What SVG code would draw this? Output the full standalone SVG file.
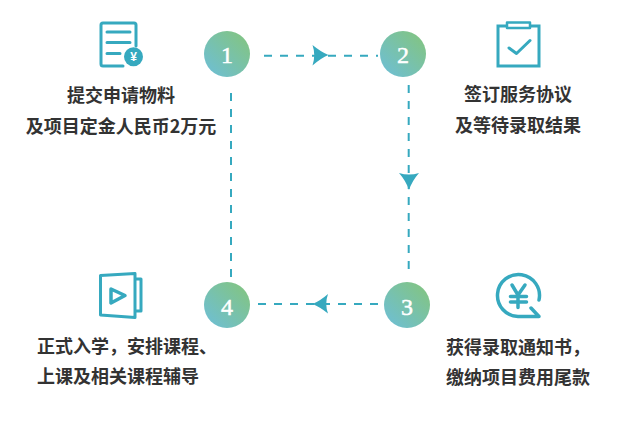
<svg xmlns="http://www.w3.org/2000/svg" width="640" height="423" viewBox="0 0 640 423">
<style>
.t{font-family:"Noto Sans CJK SC","Noto Sans",sans-serif;font-size:18px;font-weight:700;fill:#333;text-anchor:middle}
.n{font-family:"Liberation Serif",serif;font-size:24px;fill:#fff;stroke:#fff;stroke-width:.5;text-anchor:middle}
.i{fill:none;stroke:#36a9bf;stroke-width:3;stroke-linecap:round;stroke-linejoin:round}
.d{fill:none;stroke:#36a9bf;stroke-width:2;stroke-dasharray:8 8}
.a{fill:#36a9bf}
</style>
<defs>
<linearGradient id="g" x1="0" y1="1" x2="1" y2="0"><stop offset="0.1" stop-color="#6fbfd0"/><stop offset="0.9" stop-color="#82c484"/></linearGradient>
</defs>
<rect width="640" height="423" fill="#fff"/>
<g id="connectors">
<path class="d" d="M264 55.700H378"/>
<path class="a" d="M312.500 45Q321 52 328.500 55Q321 58 312.500 65.500Q316 55 312.500 45Z"/>
<path class="d" d="M408.700 85V269"/>
<path class="a" d="M399 173Q409 176 419 173Q412 181 409 190Q406 181 399 173Z"/>
<path class="d" d="M378 304H258"/>
<path class="a" d="M328 294Q320 301 312.500 304Q320 307 328 313.500Q324.500 304 328 294Z"/>
<path class="d" d="M231 93V277"/>
</g>
<g id="node1">
<path class="i" d="M123 66H103Q101 66 101 64V25Q101 23 103 23H134Q136 23 136 25V46"/>
<path class="i" d="M107 32H130M107 42.500H130M107 53.500H120"/>
<circle cx="133.500" cy="56.700" r="9.500" fill="#36a9bf"/>
<text x="133.500" y="61" font-family="Liberation Sans,sans-serif" font-size="12" font-weight="700" fill="#fff" text-anchor="middle">¥</text>
<circle cx="227" cy="54" r="23" fill="url(#g)"/>
<text class="n" x="227" y="63">1</text>
<text class="t" x="121" y="101.500">提交申请物料</text>
<text class="t" x="121" y="133">及项目定金人民币2万元</text>
</g>
<g id="node2">
<path class="i" style="stroke-linecap:butt;stroke-linejoin:miter" d="M507 26H498V66H539V26H530"/>
<rect class="i" x="507" y="22.500" width="23" height="5.500" style="stroke-width:2.500"/>
<path class="i" d="M509 48L516.500 53.500L530 40.500"/>
<circle cx="403" cy="54" r="23" fill="url(#g)"/>
<text class="n" x="403" y="63">2</text>
<text class="t" x="518" y="100.500">签订服务协议</text>
<text class="t" x="518" y="131.500">及等待录取结果</text>
</g>
<g id="node3">
<circle cx="407" cy="305" r="23" fill="url(#g)"/>
<text class="n" x="407" y="314.500">3</text>
<path class="i" style="stroke-width:3.500" d="M539 300A21 21 0 1 0 518 316.500H539L531 308"/>
<path class="i" style="stroke-width:3.500" d="M512 285L518 295L525 285M510.500 296.500H526.500M510.500 302H526.500M518 295V307.500"/>
<text class="t" x="518" y="353.500">获得录取通知书，</text>
<text class="t" x="518" y="383.500">缴纳项目费用尾款</text>
</g>
<g id="node4">
<circle cx="227" cy="305" r="23" fill="url(#g)"/>
<text class="n" x="227" y="314.500">4</text>
<path class="i" d="M100.500 275.500L135 273.500V317.500L100.500 315Z"/>
<path class="i" d="M136 279H141V311H136"/>
<path class="i" d="M111 289L125 295.500L111 303Z" style="stroke-width:3.500"/>
<text class="t" x="127" y="352.500">正式入学，安排课程、</text>
<text class="t" x="118" y="382.500">上课及相关课程辅导</text>
</g>
</svg>
